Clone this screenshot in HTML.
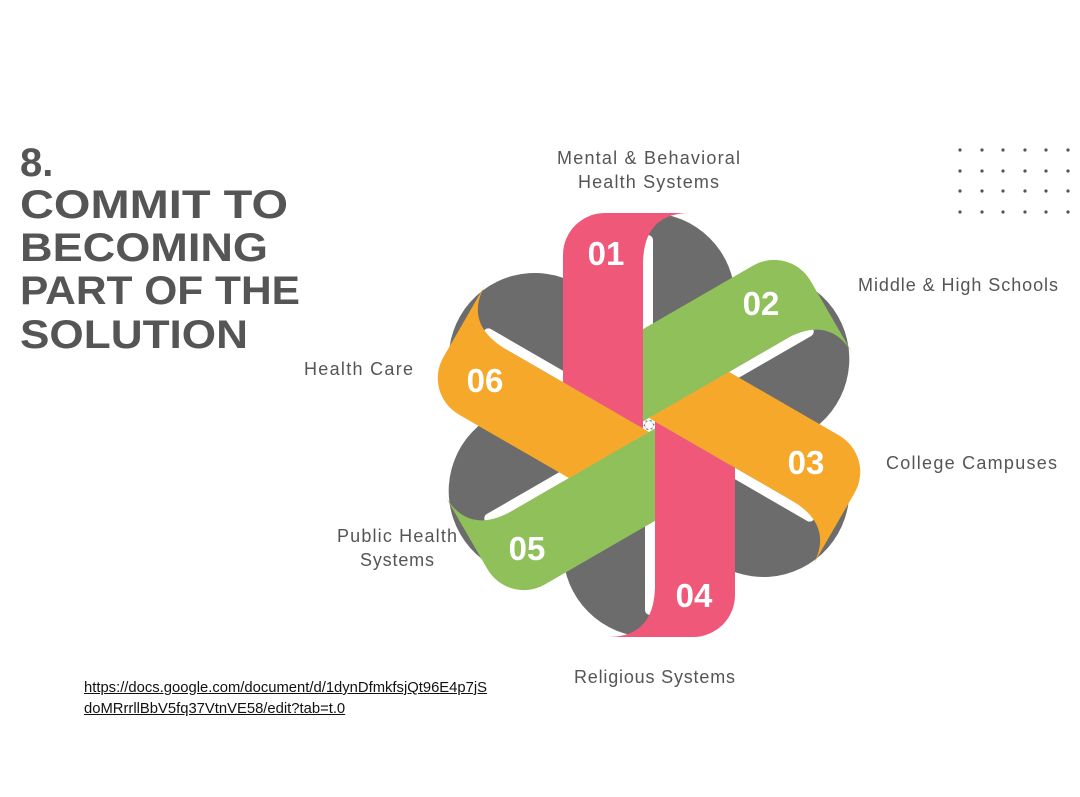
<!DOCTYPE html>
<html><head><meta charset="utf-8"><style>
html,body{margin:0;padding:0;background:#fff;}
body{width:1080px;height:797px;overflow:hidden;position:relative;font-family:"Liberation Sans",sans-serif;}
a{position:absolute;left:84px;font-size:14.8px;color:#111;text-decoration:underline;line-height:21px;}
</style></head><body>
<svg width="1080" height="797" viewBox="0 0 1080 797" style="position:absolute;left:0;top:0">
<defs>
<path id="half" d="M-6,3.5 L-86,-42.7 L-86,-170 A42,42 0 0 1 -44,-212 L41,-212 C10,-212 -6,-195 -6,-160 Z"/>
<path id="halfB" d="M-6,3.5 L-86,-42.7 L-86,-170 A42,42 0 0 1 -44,-212 L41,-212 C10,-212 -6,-195 -6,-160 Z" transform="rotate(180)"/>
</defs>
<g font-family="Liberation Sans, sans-serif" font-weight="bold" fill="#555" font-size="40">
<text x="20" y="176">8.</text>
<text x="20" y="218" textLength="268" lengthAdjust="spacingAndGlyphs">COMMIT TO</text>
<text x="20" y="261" textLength="248" lengthAdjust="spacingAndGlyphs">BECOMING</text>
<text x="20" y="304" textLength="280" lengthAdjust="spacingAndGlyphs">PART OF THE</text>
<text x="20" y="348" textLength="228" lengthAdjust="spacingAndGlyphs">SOLUTION</text>
</g>
<g fill="#555">
<g id="row"><circle cx="960" cy="150" r="1.6"/><circle cx="982" cy="150" r="1.6"/><circle cx="1003" cy="150" r="1.6"/><circle cx="1025" cy="150" r="1.6"/><circle cx="1046" cy="150" r="1.6"/><circle cx="1068" cy="150" r="1.6"/></g>
<use href="#row" y="21"/><use href="#row" y="41"/><use href="#row" y="62"/>
</g>
<g transform="translate(649,425)">
<g fill="#6c6c6c">
<rect x="-86" y="-212" width="172" height="424" rx="86"/>
<rect x="-86" y="-218" width="172" height="436" rx="86" transform="rotate(60)"/>
<rect x="-86" y="-218" width="172" height="436" rx="86" transform="rotate(120)"/>
</g>
<g fill="#fff">
<rect x="-6" y="-190" width="10" height="186" rx="5"/>
<rect x="-6" y="-190" width="10" height="186" rx="5" transform="rotate(180)"/>
<rect x="-6" y="-190" width="10" height="186" rx="5" transform="rotate(60)"/>
<rect x="-6" y="-190" width="10" height="186" rx="5" transform="rotate(240)"/>
<rect x="-6" y="-190" width="10" height="186" rx="5" transform="rotate(120)"/>
<rect x="-6" y="-190" width="10" height="186" rx="5" transform="rotate(300)"/>
</g>
<g fill="#f0587a"><use href="#half"/><use href="#halfB"/></g>
<g fill="#8fc05a"><use href="#half" transform="rotate(60)"/><use href="#halfB" transform="rotate(60)"/></g>
<g fill="#f6a82b"><use href="#half" transform="rotate(120)"/><use href="#halfB" transform="rotate(120)"/></g>
<circle cx="0" cy="0" r="4" fill="#fff"/>
</g>
<g font-family="Liberation Sans, sans-serif" font-weight="bold" fill="#fff" font-size="33" text-anchor="middle">
<text x="606" y="265">01</text>
<text x="761" y="315">02</text>
<text x="806" y="474">03</text>
<text x="694" y="607">04</text>
<text x="527" y="560">05</text>
<text x="485" y="392">06</text>
</g>
<g font-family="Liberation Sans, sans-serif" fill="#555" font-size="18">
<text x="557" y="164" textLength="183">Mental &amp; Behavioral</text>
<text x="578" y="188" textLength="141">Health Systems</text>
<text x="858" y="291" textLength="200">Middle &amp; High Schools</text>
<text x="886" y="469" textLength="171">College Campuses</text>
<text x="574" y="683" textLength="161">Religious Systems</text>
<text x="337" y="542" textLength="120">Public Health</text>
<text x="360" y="566" textLength="74">Systems</text>
<text x="304" y="375" textLength="109">Health Care</text>
</g>
</svg>
<a style="top:678px">https://docs.google.com/document/d/1dynDfmkfsjQt96E4p7jS</a>
<a style="top:699px">doMRrrllBbV5fq37VtnVE58/edit?tab=t.0</a>
</body></html>
